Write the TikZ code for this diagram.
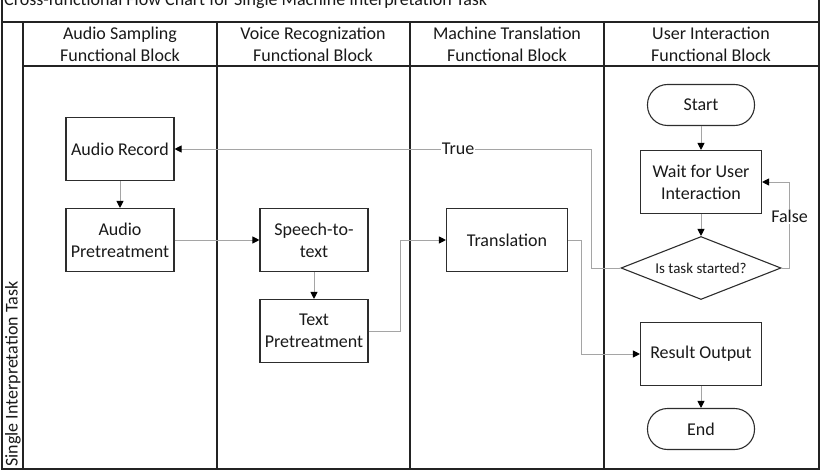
\documentclass[tikz,border=0pt]{standalone}
\usepackage{fontspec}
\setmainfont{Carlito}
\usepackage{xcolor}
\usepackage{tikz}
\usetikzlibrary{arrows.meta,shapes.geometric}
\definecolor{laneBlack}{RGB}{35,35,35}
\definecolor{flowGray}{RGB}{165,165,165}
\definecolor{boxEdge}{RGB}{45,45,45}
\definecolor{txtDark}{RGB}{25,25,25}

\begin{document}
\begin{tikzpicture}[x=1pt,y=-1pt,
  every node/.style={text=txtDark, font=\fontsize{18}{22}\selectfont},
  procbox/.style={draw=boxEdge, line width=1.1pt, minimum width=108pt, minimum height=63pt, align=center, inner sep=0pt},
  pillbox/.style={draw=boxEdge, line width=1.1pt, minimum width=107pt, minimum height=41pt, rounded corners=20pt, inner sep=0pt},
  flow/.style={draw=flowGray, line width=0.9pt, -{Triangle[length=7pt,width=7pt,color=black]}}]
\useasboundingbox (0,0) rectangle (824,476);

% swimlane frame
\draw[laneBlack, line width=1.2pt] (2,-20) rectangle (819,469);
\draw[laneBlack, line width=1.2pt] (2,22)--(819,22);
\draw[laneBlack, line width=1.2pt] (23,22)--(23,469);
\draw[laneBlack, line width=1.2pt] (23,66)--(819,66);
\foreach \lx in {217,410,604}
  \draw[laneBlack, line width=1.2pt] (\lx,22)--(\lx,469);
\node[anchor=base west, inner sep=0pt] (title) at (4,5.5) {Cross-functional Flow Chart for Single Machine Interpretation Task};
\node[rotate=90, anchor=west, inner sep=0pt] (task) at (13,467) {Single Interpretation Task};
\node[align=center] (hsample) at (120,44) {Audio Sampling\\Functional Block};
\node[align=center] (hvoice) at (313,44) {Voice Recognization\\Functional Block};
\node[align=center] (hmachine) at (507,44) {Machine Translation\\Functional Block};
\node[align=center] (huser) at (711,44) {User Interaction\\Functional Block};

% process nodes
\node[procbox] (record) at (120,149) {Audio Record};
\node[procbox] (audiopre) at (120,240) {Audio\\Pretreatment};
\node[procbox] (speech) at (314,240) {Speech-to-\\text};
\node[procbox] (textpre) at (314,331) {Text\\Pretreatment};
\node[procbox, minimum width=121pt] (translate) at (507,240) {Translation};
\node[pillbox] (start) at (701,105) {Start};
\node[procbox, minimum width=121pt] (wait) at (701,182) {Wait for User\\Interaction};
\node[draw=boxEdge, line width=1.1pt, diamond, aspect=2.54, minimum width=160pt, minimum height=63pt, inner sep=0pt, font=\fontsize{15}{18}\selectfont] (started) at (701,268) {Is task started?};
\node[procbox, minimum width=121pt] (result) at (701,354) {Result Output};
\node[pillbox] (finish) at (701,429) {End};

% connectors
\draw[flow] (start) -- (wait);
\draw[flow] (wait) -- (started);
\draw[flow] (started.east) -- ++(8,0) |- (wait.east) node[pos=0.3, fill=white, inner sep=1pt] {False};
\draw[flow] (started.west) -- ++(-29,0) |- (record.east) node[pos=0.66, fill=white, inner sep=1pt] {True};
\draw[flow] (record) -- (audiopre);
\draw[flow] (audiopre) -- (speech);
\draw[flow] (speech) -- (textpre);
\draw[flow] (textpre.east) -- ++(32,0) |- (translate.west);
\draw[flow] (translate.east) -- ++(13,0) |- (result.west);
\draw[flow] (result) -- (finish);
\end{tikzpicture}
\end{document}
